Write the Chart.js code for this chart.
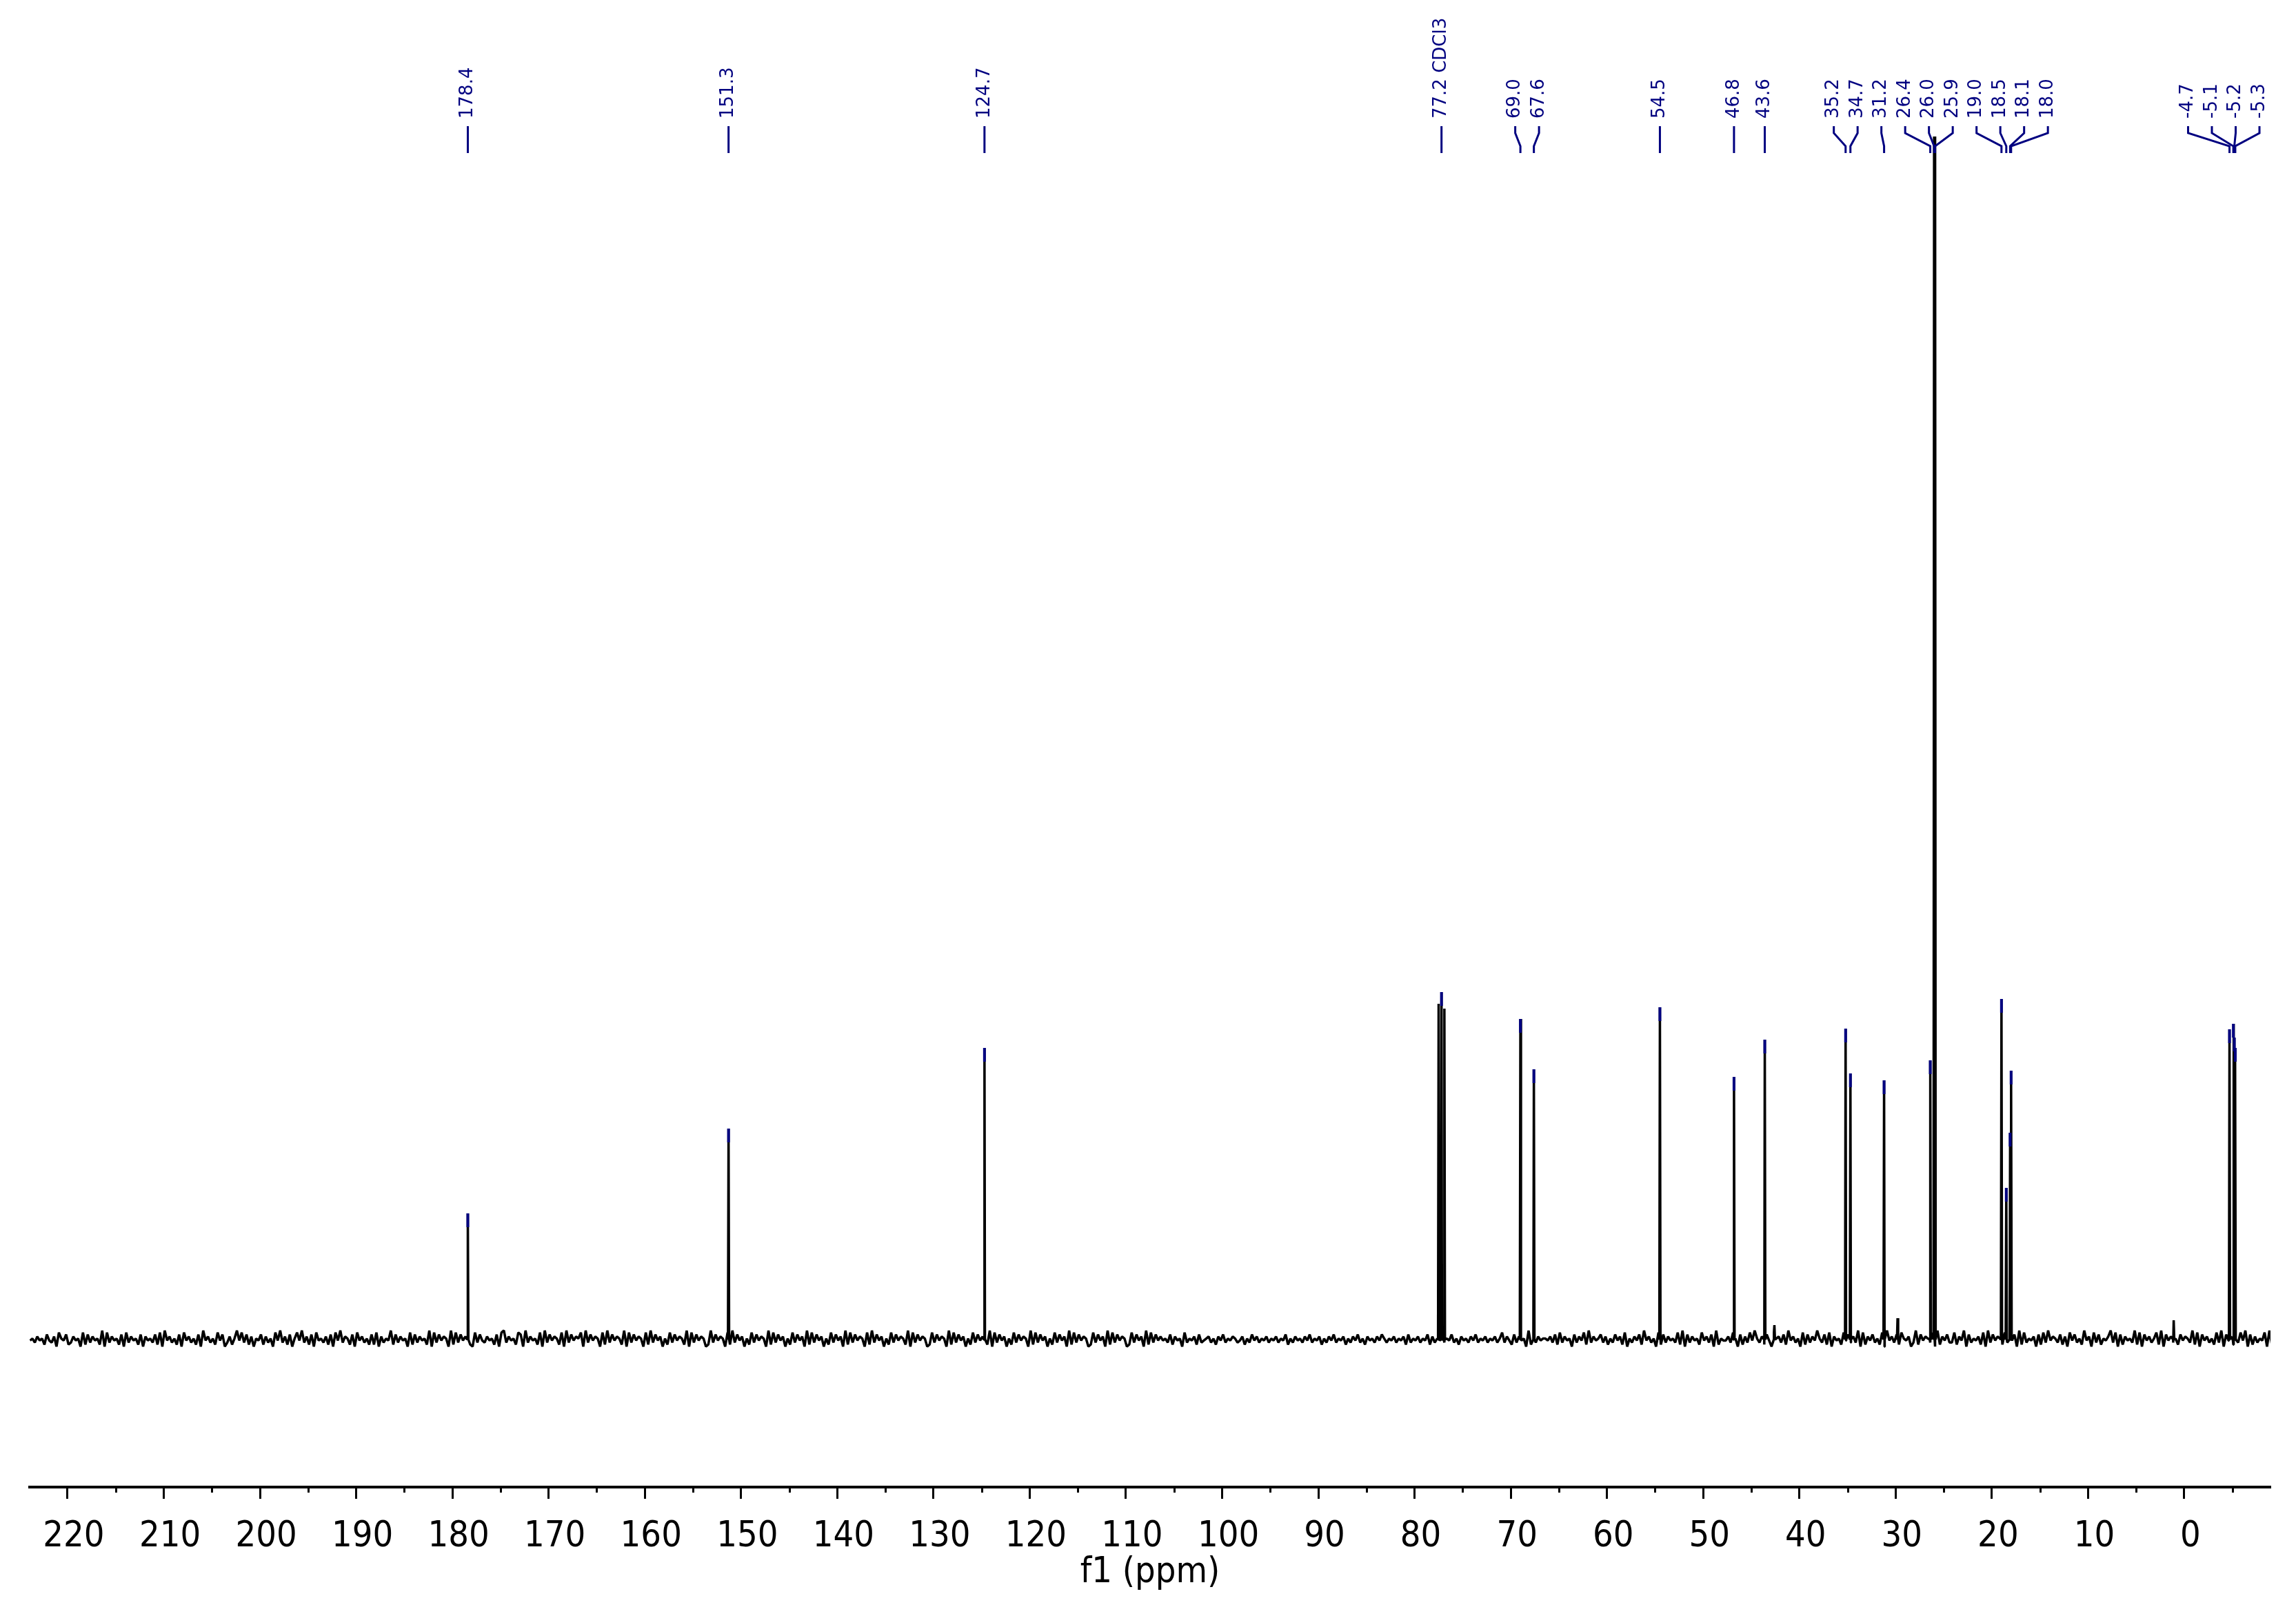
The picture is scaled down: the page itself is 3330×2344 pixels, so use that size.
<!DOCTYPE html>
<html lang="en">
<head>
<meta charset="utf-8">
<title>13C NMR – f1 (ppm)</title>
<script src="https://cdn.jsdelivr.net/npm/chart.js@4.4.1/dist/chart.umd.min.js"></script>
<style>
  html, body { margin: 0; padding: 0; background: #fff; }
  #wrap { width: 3330px; height: 2344px; }
</style>
</head>
<body>
<div id="wrap"><canvas id="spectrum" width="3330" height="2344"></canvas></div>
<script>
/* ── Data: peaks (ppm / intensity), peak labels, baseline noise ── */
var peakPpm = [178.4, 151.3, 124.7, 77.5, 77.2, 76.9, 69.0, 67.6, 54.5, 46.8, 43.6, 42.6,
  35.2, 34.7, 31.2, 29.8, 26.4, 26.0, 25.9, 19.0, 18.5, 18.1, 18.0, 1.1, -4.7, -5.1, -5.2, -5.3];
var peakHeight = [183, 306, 423, 487, 504, 480, 465, 392, 482, 381, 435, 21,
  451, 386, 376, 31, 405, 1800, 1800, 494, 220, 300, 390, 28, 450, 458, 438, 423];

var labelPpm = [178.4, 151.3, 124.7, 77.2, 69.0, 67.6, 54.5, 46.8, 43.6, 35.2, 34.7, 31.2,
  26.4, 26.0, 25.9, 19.0, 18.5, 18.1, 18.0, -4.7, -5.1, -5.2, -5.3];
var labelText = ['178.4', '151.3', '124.7', '77.2 CDCl3', '69.0', '67.6', '54.5', '46.8', '43.6',
  '35.2', '34.7', '31.2', '26.4', '26.0', '25.9', '19.0', '18.5', '18.1', '18.0',
  '-4.7', '-5.1', '-5.2', '-5.3'];

// baseline noise, one digit per 0.25 ppm starting at 223.9 ppm (4.5 = zero)
var noiseStart = 223.9;
var noiseStep = 0.25;
var noiseDigits =
  '45364527436185472364518273645291836452718364527' +
  '16453728194635271846352719463528471362594837261' +
  '54726351849362715849362718453627184936527184635' +
  '27281635492736451827364529183746519283746521837' +
  '43645271893645287193645281937465281937465819374' +
  '65182937465291837465182937461528374652918374651' +
  '29374651829374615283746519283746152837461928374' +
  '61528374619283746518293746152837465291837465128' +
  '37465192837461528374652918374615283746519283746' +
  '15283746192837465128374619283746512837461928374' +
  '64537264518354627345635264735465346253746354635' +
  '46354725364536473546253647354625364735264536475' +
  '35463546273546354726354635473526453647354635463' +
  '58364273645192736455463728364517364829364573625' +
  '37462815364729463518273645382917364528463719254' +
  '46385172638495362741856372946351827364953728164' +
  '52847363918264735281946372854613927465381926473' +
  '38264917354628193746528364719283546172839465372' +
  '61847352946183725469381726453928174635829174635' +
  '27465392817463528391746253849172635481927364518' +
  '74639281537462819354672839164528371946253817462';

var xMin = -8.96;
var xMax = 223.94;
var yMin = -214;
var yMax = 1745;
var majorStep = 10;
var minorStep = 5;

(function () {
  'use strict';

  var INK = '#000000';
  var NAVY = '#000080';
  var AXIS_FONT = "'DejaVu Sans Condensed', 'DejaVu Sans', sans-serif";

  /* ── Spectrum trace: noise samples + narrow peaks, sorted by ppm ── */
  function buildSpectrum() {
    var pts = [];
    for (var i = 0; i < noiseDigits.length; i++) {
      var x = noiseStart - i * noiseStep;
      if (x < xMin - noiseStep) break;
      pts.push({ x: x, y: (Number(noiseDigits.charAt(i)) - 4.5) * 2.9 });
    }
    peakPpm.forEach(function (p, k) {
      pts.push({ x: p + 0.06, y: 0 });
      pts.push({ x: p, y: peakHeight[k] });
      pts.push({ x: p - 0.06, y: 0 });
    });
    pts.sort(function (a, b) { return b.x - a.x; });
    return pts;
  }

  /* ── Blue peak-pick marks at the top of each labelled peak ── */
  function buildMarks() {
    return labelPpm.map(function (p) {
      var k = peakPpm.indexOf(p);
      return { x: p, y: peakHeight[k] - 10 };
    });
  }

  /* ── Spread labels so they keep a fixed gap, centred on their peaks ── */
  function spreadLabels(pixels, gap, lo, hi) {
    var groups = pixels.map(function (p) { return { sum: p, n: 1, start: p }; });
    function place(g) {
      var s = g.sum / g.n - (g.n - 1) * gap / 2;
      g.start = Math.max(lo, Math.min(hi - (g.n - 1) * gap, s));
    }
    groups.forEach(place);
    var merged = true;
    while (merged) {
      merged = false;
      for (var i = 0; i < groups.length - 1; i++) {
        var a = groups[i], b = groups[i + 1];
        if (a.start + a.n * gap > b.start) {
          a.sum += b.sum;
          a.n += b.n;
          place(a);
          groups.splice(i + 1, 1);
          merged = true;
          break;
        }
      }
    }
    var out = [];
    groups.forEach(function (g) {
      for (var j = 0; j < g.n; j++) out.push(g.start + j * gap);
    });
    return out;
  }

  /* ── Plugin: minor ticks on the ppm axis ── */
  var minorTicks = {
    id: 'minorTicks',
    afterDraw: function (chart) {
      var xs = chart.scales.x;
      var ctx = chart.ctx;
      var top = chart.chartArea.bottom;
      ctx.save();
      ctx.strokeStyle = INK;
      ctx.lineWidth = 3;
      ctx.beginPath();
      for (var v = Math.ceil(xMin / minorStep) * minorStep; v <= xMax; v += minorStep) {
        if (v % majorStep === 0) continue;
        var px = Math.round(xs.getPixelForValue(v)) + 0.5;
        ctx.moveTo(px, top);
        ctx.lineTo(px, top + 8);
      }
      ctx.stroke();
      ctx.restore();
    }
  };

  /* ── Plugin: rotated peak labels with connector lines ── */
  var peakLabels = {
    id: 'peakLabels',
    afterDraw: function (chart) {
      var xs = chart.scales.x;
      var ctx = chart.ctx;
      var peaksPx = labelPpm.map(function (p) { return xs.getPixelForValue(p); });
      var labelsPx = spreadLabels(peaksPx, 34.5, chart.chartArea.left + 16, chart.chartArea.right - 16);

      ctx.save();
      ctx.strokeStyle = NAVY;
      ctx.lineWidth = 3;
      ctx.lineJoin = 'miter';
      peaksPx.forEach(function (px, i) {
        var lx = labelsPx[i];
        ctx.beginPath();
        ctx.moveTo(lx, 183);
        ctx.lineTo(lx, 193);
        ctx.lineTo(px, 212);
        ctx.lineTo(px, 222);
        ctx.stroke();
      });

      ctx.fillStyle = NAVY;
      ctx.font = "26px 'DejaVu Sans', Verdana, sans-serif";
      ctx.textAlign = 'left';
      ctx.textBaseline = 'middle';
      labelText.forEach(function (txt, i) {
        ctx.save();
        ctx.translate(labelsPx[i], 172);
        ctx.rotate(-Math.PI / 2);
        ctx.fillText(txt, 0, 0);
        ctx.restore();
      });
      ctx.restore();
    }
  };

  /* ── Chart.js initialization ── */
  function init() {
    var canvas = document.getElementById('spectrum');
    new Chart(canvas, {
      type: 'line',
      data: {
        datasets: [
          {
            label: 'picks',
            data: buildMarks(),
            showLine: false,
            pointStyle: 'line',
            pointRotation: 90,
            pointRadius: 10,
            pointBorderWidth: 4,
            pointBorderColor: NAVY,
            pointBackgroundColor: NAVY,
            clip: 0,
            order: 0
          },
          {
            label: 'f1',
            data: buildSpectrum(),
            borderColor: INK,
            borderWidth: 3.5,
            borderJoinStyle: 'bevel',
            pointRadius: 0,
            tension: 0,
            fill: false,
            clip: 0,
            order: 1
          }
        ]
      },
      options: {
        responsive: false,
        animation: false,
        devicePixelRatio: 1,
        events: [],
        layout: { padding: { left: 43, right: 37, top: 198, bottom: 0 } },
        plugins: {
          legend: { display: false },
          tooltip: { enabled: false }
        },
        scales: {
          x: {
            type: 'linear',
            reverse: true,
            min: xMin,
            max: xMax,
            afterFit: function (scale) { scale.height = 187; },
            border: { display: true, color: INK, width: 4 },
            grid: {
              drawOnChartArea: false,
              drawTicks: true,
              tickLength: 17,
              tickWidth: 3,
              tickColor: INK
            },
            ticks: {
              stepSize: majorStep,
              includeBounds: false,
              autoSkip: false,
              maxRotation: 0,
              padding: 24,
              labelOffset: 9,
              color: INK,
              font: { family: AXIS_FONT, size: 52 },
              callback: function (v) { return String(v); }
            },
            title: {
              display: true,
              text: 'f1 (ppm)',
              color: INK,
              font: { family: AXIS_FONT, size: 52 },
              padding: { top: 0, bottom: 31 }
            }
          },
          y: {
            type: 'linear',
            display: false,
            min: yMin,
            max: yMax
          }
        }
      },
      plugins: [minorTicks, peakLabels]
    });
  }

  if (document.readyState === 'loading') {
    document.addEventListener('DOMContentLoaded', init);
  } else {
    init();
  }
})();
</script>
</body>
</html>
